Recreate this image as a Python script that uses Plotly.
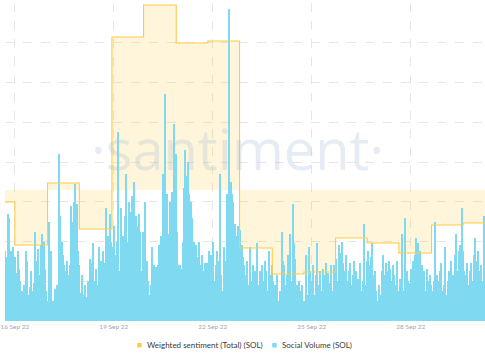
import pandas as pd
import plotly.graph_objects as go

# Social volume (SOL), hourly, starting 2022-09-15 17:00
vol_d0 = [35, 32, 54, 52, 35, 28, 37]
vol_d1 = [32, 24, 35, 26, 20, 15, 12, 18, 35, 30, 13, 17, 25, 15, 19, 45, 30, 36, 23, 38, 44, 40, 26, 15]
vol_d2 = [10, 50, 35, 7, 10, 16, 7, 18, 84, 53, 40, 33, 28, 25, 30, 23, 28, 58, 50, 60, 69, 59, 35, 28]
vol_d3 = [14, 23, 13, 18, 12, 20, 15, 31, 29, 39, 20, 26, 18, 37, 25, 30, 35, 29, 57, 40, 43, 54, 40, 37]
vol_d4 = [48, 33, 40, 95, 25, 57, 35, 43, 53, 74, 40, 60, 55, 63, 53, 70, 53, 48, 54, 45, 25, 45, 28, 60]
vol_d5 = [30, 20, 13, 18, 37, 28, 25, 27, 28, 38, 43, 35, 74, 114, 55, 64, 44, 60, 65, 59, 99, 84, 45, 28]
vol_d6 = [28, 26, 40, 67, 86, 73, 80, 64, 60, 52, 40, 33, 38, 32, 40, 28, 33, 25, 29, 23, 29, 35, 25, 33]
vol_d7 = [40, 20, 28, 35, 30, 74, 23, 15, 37, 30, 64, 62, 157, 70, 64, 60, 49, 43, 48, 45, 46, 38, 32, 28]
vol_d8 = [23, 30, 18, 37, 20, 28, 13, 25, 39, 18, 25, 15, 28, 20, 30, 25, 15, 35, 23, 28, 20, 18, 13, 23]
vol_d9 = [10, 15, 45, 30, 28, 18, 23, 33, 44, 20, 59, 39, 31, 18, 13, 20, 15, 18, 10, 8, 33, 13, 37, 25]
vol_d10 = [20, 28, 13, 23, 39, 18, 25, 15, 26, 23, 29, 20, 24, 19, 28, 15, 28, 23, 31, 20, 38, 34, 40, 29]
vol_d11 = [25, 33, 20, 25, 29, 18, 23, 30, 25, 10, 21, 29, 15, 20, 49, 18, 30, 35, 28, 32, 39, 23, 25, 15]
vol_d12 = [10, 18, 13, 25, 33, 23, 29, 25, 30, 26, 20, 28, 23, 18, 30, 15, 21, 18, 44, 15, 52, 25, 20, 19]
vol_d13 = [26, 23, 30, 33, 42, 39, 31, 35, 28, 19, 25, 15, 26, 20, 23, 18, 15, 20, 50, 23, 20, 25, 29, 15]
vol_d14 = [18, 37, 13, 20, 25, 30, 18, 23, 33, 44, 25, 35, 38, 57, 35, 25, 23, 29, 18, 25, 29, 20, 33, 42]
vol_d15 = [30, 35, 25, 28, 20, 53]

social_volume = (vol_d0 + vol_d1 + vol_d2 + vol_d3 + vol_d4 + vol_d5 + vol_d6 + vol_d7 +
                 vol_d8 + vol_d9 + vol_d10 + vol_d11 + vol_d12 + vol_d13 + vol_d14 + vol_d15)
vol_times = pd.date_range("2022-09-15 17:00", periods=len(social_volume), freq="h")

# Weighted sentiment (Total) step values
sent_times = ["2022-09-15 16:50", "2022-09-16 00:00", "2022-09-16 23:45", "2022-09-17 22:50",
              "2022-09-18 22:35", "2022-09-19 21:36", "2022-09-20 21:22", "2022-09-21 20:24",
              "2022-09-22 19:26", "2022-09-23 19:12", "2022-09-24 18:14", "2022-09-25 17:17",
              "2022-09-26 16:19", "2022-09-27 15:22", "2022-09-28 15:07", "2022-09-29 14:10",
              "2022-09-30 06:00"]
sentiment = [-0.12, -0.55, 0.07, -0.39, 1.53, 1.85, 1.47, 1.49, -0.58, -0.84, -0.82,
             -0.48, -0.53, -0.63, -0.35, -0.33, -0.33]

tick_vals = ["2022-09-16", "2022-09-19", "2022-09-22", "2022-09-25", "2022-09-28"]
tick_text = ["16 Sep 22", "19 Sep 22", "22 Sep 22", "25 Sep 22", "28 Sep 22"]
legend_names = ["Weighted sentiment (Total) (SOL)", "Social Volume (SOL)"]

YELLOW = "#FFCB47"
BLUE = "#7ED9F1"
SENT_RANGE = [-1.31, 1.87]

fig = go.Figure()

# sentiment fill (below bars)
fig.add_trace(go.Scatter(
    x=sent_times, y=sentiment, mode="none", line=dict(shape="hv"),
    fill="tozeroy", fillcolor="rgba(255,203,71,0.2)", yaxis="y", showlegend=False,
    hoverinfo="skip"))

# social volume bars
fig.add_trace(go.Bar(
    x=vol_times, y=social_volume, marker=dict(color=BLUE, line=dict(width=0)),
    width=2.9e6, yaxis="y2", showlegend=False, name=legend_names[1]))

# sentiment step line (above bars)
fig.add_trace(go.Scatter(
    x=sent_times, y=sentiment, mode="lines", line=dict(shape="hv", color=YELLOW, width=1.1),
    yaxis="y3", showlegend=False, name=legend_names[0]))

# legend drawn as small squares + text
legend_items = [(133.5, 141.5, YELLOW, legend_names[0]), (270.0, 278.0, BLUE, legend_names[1])]
shapes = []
annotations = []
W = 485.0
for sq_x, tx, col, name in legend_items:
    shapes.append(dict(type="rect", xref="paper", yref="paper",
                       x0=sq_x / W, x1=(sq_x + 4.5) / W,
                       y0=(321 - 347.5) / 318, y1=(321 - 343.0) / 318,
                       fillcolor=col, line=dict(width=0)))
    annotations.append(dict(text=name, xref="paper", yref="paper", x=tx / W,
                            y=(321 - 345.3) / 318, xanchor="left", yanchor="middle",
                            showarrow=False,
                            font=dict(size=8, color="#3a3a3a", family="Lato, sans-serif")))

annotations.append(dict(text="·santiment·", xref="paper", yref="paper", x=0.485, y=0.545,
                        showarrow=False,
                        font=dict(size=56, color="rgba(165,188,215,0.28)",
                                  family="Open Sans", weight=400)))

fig.update_layout(
    width=485, height=360,
    margin=dict(l=0, r=0, t=3, b=39),
    paper_bgcolor="white", plot_bgcolor="white",
    font=dict(family="Lato, Open Sans, sans-serif"),
    bargap=0,
    showlegend=False,
    xaxis=dict(type="date", range=["2022-09-15 16:48", "2022-09-30 06:00"],
               tickvals=tick_vals, ticktext=tick_text, showgrid=True,
               gridcolor="#e6e6e6", griddash="dash", gridwidth=1,
               tickfont=dict(size=6.5, color="#9ea5b3"), ticks="", showline=False,
               zeroline=False, ticklabeloverflow="allow"),
    yaxis=dict(range=SENT_RANGE, tick0=SENT_RANGE[0], dtick=0.3975, showgrid=True,
               gridcolor="#e6e6e6", griddash="dash", showticklabels=False,
               zeroline=False, showline=False),
    yaxis2=dict(range=[0, 160], overlaying="y", showgrid=False, showticklabels=False,
                zeroline=False, showline=False),
    yaxis3=dict(range=SENT_RANGE, overlaying="y", showgrid=False, showticklabels=False,
                zeroline=False, showline=False),
    shapes=shapes,
    annotations=annotations,
)

fig.write_html("out.html", config={"displayModeBar": False},
               post_script="document.body.style.margin='0';")
